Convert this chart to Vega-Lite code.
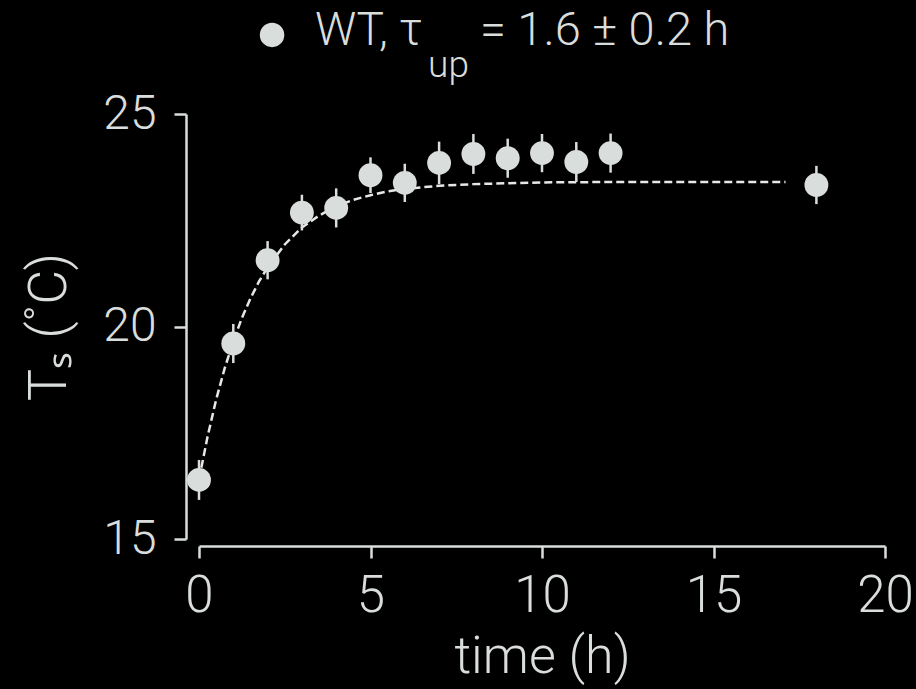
{
  "$schema": "https://vega.github.io/schema/vega-lite/v6.json",
  "width": 686,
  "height": 425,
  "autosize": {"type": "none"},
  "padding": {"left": 199, "top": 114, "right": 31, "bottom": 150},
  "background": "#000000",
  "config": {
    "view": {"stroke": null},
    "font": "Roboto",
    "axis": {
      "domainColor": "#d9dddc",
      "domainWidth": 2.5,
      "tickColor": "#d9dddc",
      "tickWidth": 2.5,
      "tickSize": 12,
      "grid": false,
      "labelColor": "#d9dddc",
      "titleColor": "#d9dddc",
      "labelFont": "Roboto",
      "titleFont": "Roboto",
      "labelFontWeight": 300,
      "titleFontWeight": 300
    },
    "text": {"font": "Roboto", "fontWeight": 300, "color": "#d9dddc"}
  },
  "datasets": {
    "obs": [
      {"t": 0, "T": 16.39, "err": 0.47},
      {"t": 1, "T": 19.6, "err": 0.46},
      {"t": 2, "T": 21.56, "err": 0.45},
      {"t": 3, "T": 22.68, "err": 0.42},
      {"t": 4, "T": 22.79, "err": 0.46},
      {"t": 5, "T": 23.56, "err": 0.42},
      {"t": 6, "T": 23.38, "err": 0.45},
      {"t": 7, "T": 23.85, "err": 0.5},
      {"t": 8, "T": 24.06, "err": 0.47},
      {"t": 9, "T": 23.96, "err": 0.46},
      {"t": 10, "T": 24.08, "err": 0.45},
      {"t": 11, "T": 23.87, "err": 0.47},
      {"t": 12, "T": 24.08, "err": 0.46},
      {"t": 18, "T": 23.33, "err": 0.45}
    ],
    "fit": [
      {"t": 0, "T": 16.4},
      {"t": 0.25, "T": 17.41},
      {"t": 0.5, "T": 18.28},
      {"t": 0.75, "T": 19.02},
      {"t": 1, "T": 19.65},
      {"t": 1.25, "T": 20.2},
      {"t": 1.5, "T": 20.66},
      {"t": 1.75, "T": 21.06},
      {"t": 2, "T": 21.39},
      {"t": 2.5, "T": 21.93},
      {"t": 3, "T": 22.33},
      {"t": 3.5, "T": 22.61},
      {"t": 4, "T": 22.83},
      {"t": 4.5, "T": 22.98},
      {"t": 5, "T": 23.09},
      {"t": 5.5, "T": 23.18},
      {"t": 6, "T": 23.24},
      {"t": 7, "T": 23.31},
      {"t": 8, "T": 23.35},
      {"t": 9, "T": 23.37},
      {"t": 10, "T": 23.39},
      {"t": 12, "T": 23.4},
      {"t": 14, "T": 23.4},
      {"t": 17.1, "T": 23.4}
    ],
    "key": [{"series": "WT"}]
  },
  "layer": [
    {
      "data": {"name": "fit"},
      "mark": {"type": "line", "color": "#e6e8e8", "strokeWidth": 2.5, "strokeDash": [8, 4]},
      "encoding": {
        "x": {
          "field": "t",
          "type": "quantitative",
          "title": "time (h)",
          "scale": {"domain": [0, 20], "nice": false, "zero": false},
          "axis": {
            "values": [0, 5, 10, 15, 20],
            "offset": 7,
            "labelFontSize": 51,
            "labelPadding": 13,
            "titleFontSize": 52,
            "titlePadding": 10,
            "labelFlush": false
          }
        },
        "y": {
          "field": "T",
          "type": "quantitative",
          "title": "Tₛ (˚C)",
          "scale": {"domain": [15, 25], "nice": false, "zero": false},
          "axis": {
            "values": [15, 20, 25],
            "offset": 13,
            "labelFontSize": 48,
            "labelPadding": 18,
            "titleFontSize": 54,
            "titlePadding": 26,
            "labelFlush": false
          }
        }
      }
    },
    {
      "data": {"name": "obs"},
      "mark": {"type": "errorbar", "color": "#d9dddc", "thickness": 2.5},
      "encoding": {
        "x": {"field": "t", "type": "quantitative", "title": "time (h)"},
        "y": {"field": "T", "type": "quantitative", "title": "Tₛ (˚C)"},
        "yError": {"field": "err"}
      }
    },
    {
      "data": {"name": "obs"},
      "mark": {"type": "point", "shape": "circle", "filled": true, "opacity": 1, "size": 570, "color": "#d9dddc"},
      "encoding": {
        "x": {"field": "t", "type": "quantitative", "title": "time (h)"},
        "y": {"field": "T", "type": "quantitative", "title": "Tₛ (˚C)"}
      }
    },
    {
      "data": {"name": "key"},
      "mark": {"type": "point", "shape": "circle", "filled": true, "opacity": 1, "size": 600, "color": "#d9dddc", "clip": false},
      "encoding": {
        "x": {"datum": 2.13},
        "y": {"datum": 26.86}
      }
    },
    {
      "data": {"name": "key"},
      "mark": {"type": "text", "text": "WT, τ", "fontSize": 46, "align": "left", "baseline": "alphabetic", "clip": false},
      "encoding": {
        "x": {"datum": 3.38},
        "y": {"datum": 26.62}
      }
    },
    {
      "data": {"name": "key"},
      "mark": {"type": "text", "text": "up", "fontSize": 37, "align": "left", "baseline": "alphabetic", "clip": false},
      "encoding": {
        "x": {"datum": 6.68},
        "y": {"datum": 25.88}
      }
    },
    {
      "data": {"name": "key"},
      "mark": {"type": "text", "text": "= 1.6 ± 0.2 h", "fontSize": 47, "align": "left", "baseline": "alphabetic", "clip": false},
      "encoding": {
        "x": {"datum": 8.19},
        "y": {"datum": 26.62}
      }
    }
  ]
}
